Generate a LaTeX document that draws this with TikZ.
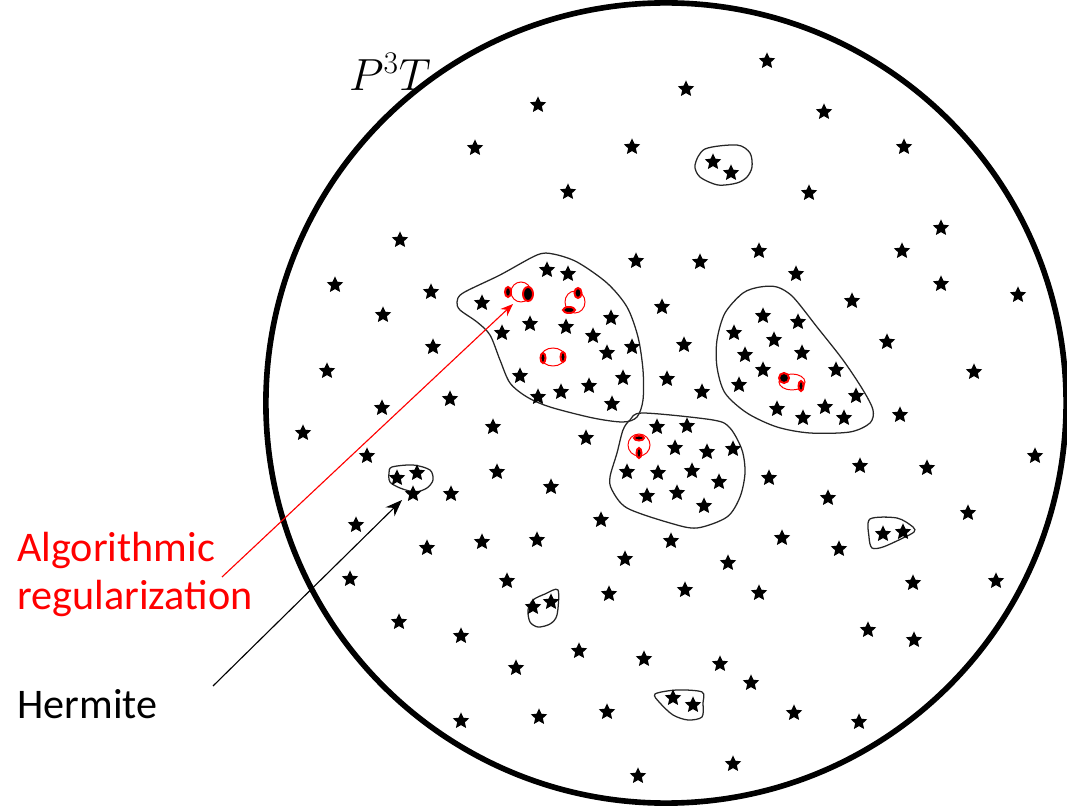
\RequirePackage{fix-cm}
\documentclass[tikz,border=0pt]{standalone}
\usepackage{fontspec}
\newfontfamily\labelfont{Carlito}
\usetikzlibrary{arrows.meta,shapes.geometric}

\tikzset{
  spot/.style={star, star points=5, star point ratio=2.1, fill=black, inner sep=0pt, minimum size=0.43cm},
  blob/.style={draw=black!85, line width=0.9pt},
  loop/.style={draw=red, line width=0.7pt},
  core/.style={fill=black, draw=red, line width=1.4pt},
  lbl/.style={font=\labelfont\fontsize{30}{34}\selectfont, align=left, inner sep=0pt}
}

\begin{document}
\begin{tikzpicture}[x=0.025cm, y=-0.025cm]
  \useasboundingbox (0,0) rectangle (1067,806);

  % the space
  \draw[line width=4pt] (666,403) circle[radius=10cm];
  \node[font=\fontsize{32}{36}\selectfont, inner sep=0pt] (space) at (390,72) {$P^3T$};

  % clusters
  \draw[blob] plot[smooth cycle] coordinates {(457,302) (463,293) (500,275) (537,255) (553,254) (577,262) (607,283) (627,307) (638,337) (643,370) (643,400) (637,417) (623,422) (593,418) (550,407) (527,397) (510,383) (500,360) (490,335) (477,322) (460,310)};
  \draw[blob] plot[smooth cycle] coordinates {(630,420) (643,413) (713,420) (730,428) (742,450) (745,473) (740,497) (727,517) (697,528) (670,523) (627,508) (612,490) (610,477) (617,453) (623,430)};
  \draw[blob] plot[smooth cycle] coordinates {(760,287) (743,293) (725,313) (717,340) (717,367) (725,393) (747,413) (777,427) (810,433) (850,432) (870,423) (873,410) (863,390) (843,360) (817,327) (793,297) (777,287)};
  \draw[blob] plot[smooth cycle] coordinates {(705,149) (737,145) (750,153) (752,167) (747,177) (737,183) (718,185) (700,177) (695,165)};
  \draw[blob] plot[smooth cycle] coordinates {(392,467) (413,465) (430,470) (433,480) (427,488) (415,492) (400,488) (390,482) (389,473)};
  \draw[blob] plot[smooth cycle] coordinates {(558,590) (557,615) (550,624) (538,627) (530,622) (528,610) (533,600) (545,594)};
  \draw[blob] plot[smooth cycle] coordinates {(655,694) (677,690) (702,692) (703,703) (702,717) (688,720) (673,715) (660,703)};
  \draw[blob] plot[smooth cycle] coordinates {(870,519) (897,518) (913,527) (914,532) (903,538) (883,547) (872,548) (869,537)};

  % stars
  \foreach \x/\y [count=\i] in {767/61,686/89,538/105,475/148,824/112,632/147,904/147,568/192,809/193,400/240,
    941/228,759/251,902/251,636/261,700/262,796/274,335/285,431/292,941/284,1018/295,852/301,383/315,662/307,
    887/342,433/347,684/345,327/371,667/379,974/372,702/392,450/399,382/408,900/415,303/433,493/427,586/438,
    367/456,497/472,1035/456,860/466,927/468,769/478,451/494,551/487,828/498,968/513,601/520,356/525,427/548,
    482/542,537/540,671/541,782/538,839/549,625/559,728/563,350/579,507/581,609/594,685/590,759/593,913/583,
    996/581,399/622,461/636,579/651,644/659,720/664,751/683,868/630,914/640,516/668,461/721,539/717,607/712,
    794/713,859/722,638/776,733/764,
    482/303,547/270,568/274,530/324,502/333,566/327,593/336,611/318,632/347,607/353,520/376,623/378,589/386,
    561/392,538/397,612/404,
    657/427,687/426,675/448,707/452,733/449,627/472,658/473,692/471,719/482,647/496,677/493,704/506,
    763/316,734/333,774/340,745/355,763/370,739/385,777/409,798/322,802/353,836/370,856/396,825/407,803/418,844/418,
    713/162,731/173,397/478,417/473,413/494,533/607,551/602,673/698,693/705,883/534,903/532}
    \node[spot] (s\i) at (\x,\y) {};

  % regularized pairs
  \draw[loop] (521,292) ellipse[x radius=10, y radius=10];
  \filldraw[core] (508,292) ellipse[x radius=3, y radius=5];
  \filldraw[core] (528,294) ellipse[x radius=5, y radius=7];
  \draw[loop] (575,302) ellipse[x radius=10, y radius=11];
  \filldraw[core] (578,293) ellipse[x radius=3.5, y radius=5];
  \filldraw[core] (569,310) ellipse[x radius=6, y radius=3];
  \draw[loop] (553,357) ellipse[x radius=12, y radius=9];
  \filldraw[core] (543,358) ellipse[x radius=2.5, y radius=5];
  \filldraw[core] (563,357) ellipse[x radius=2.5, y radius=5];
  \draw[loop] (639,445) ellipse[x radius=11, y radius=11];
  \filldraw[core] (639,438) ellipse[x radius=5, y radius=2.5];
  \filldraw[core] (639,453) ellipse[x radius=2.5, y radius=5];
  \draw[loop] (792,382) ellipse[x radius=13, y radius=8];
  \filldraw[core] (784,378) ellipse[x radius=5, y radius=5];
  \filldraw[core] (801,386) ellipse[x radius=2.5, y radius=5];

  % labels
  \node[lbl, text=red, anchor=north west] (algo) at (17,532) {Algorithmic\\regularization};
  \node[lbl, anchor=base west] (herm) at (17,718) {Hermite};
  \coordinate (algotail) at (222,577);
  \coordinate (algohead) at (513,304);
  \coordinate (hermtail) at (213,686);
  \coordinate (hermhead) at (402,500);
  \draw[red, line width=0.8pt, -{Stealth[length=9pt, width=7pt, inset=3pt]}] (algotail) -- (algohead);
  \draw[line width=0.8pt, -{Stealth[length=12pt, width=9pt, inset=4pt]}] (hermtail) -- (hermhead);
\end{tikzpicture}
\end{document}
